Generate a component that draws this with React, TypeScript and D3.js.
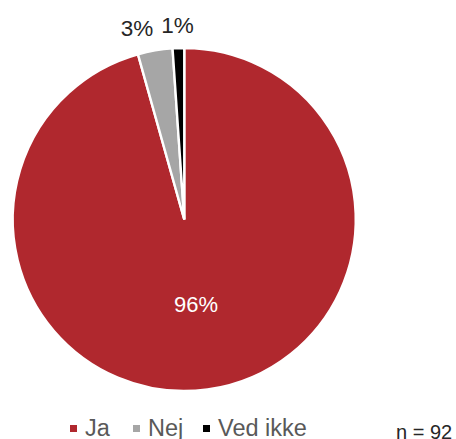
import React from "react";
import * as d3 from "d3";

const categories = ["Ja", "Nej", "Ved ikke"];
const counts = [88, 3, 1];
const colors = ["#B0282E", "#A6A6A6", "#000000"];
const note = "n = 92";

const W = 456;
const H = 439;
const FONT = "'Liberation Sans', Arial, sans-serif";

export default function App() {
  const cx = 184.25;
  const cy = 219.5;
  const r = 171.5;

  const total = d3.sum(counts);
  const pct = (v: number) => `${Math.round((v / total) * 100)}%`;

  const pie = d3.pie<number>().sort(null).value((d) => d)(counts);
  const arc = d3.arc<d3.PieArcDatum<number>>().innerRadius(0).outerRadius(r);
  const inArc = d3.arc<d3.PieArcDatum<number>>().innerRadius(0).outerRadius(r);
  const outArc = d3.arc<d3.PieArcDatum<number>>().innerRadius(r + 23).outerRadius(r + 23);

  const small = (v: number) => v / total < 0.1;

  const outside = pie
    .map((p, i) => ({ i, p, pos: outArc.centroid(p) }))
    .filter((o) => small(counts[o.i]));
  const minGap = 40.5;
  for (let k = outside.length - 2; k >= 0; k--) {
    const next = outside[k + 1];
    const cur = outside[k];
    if (cur.pos[0] > next.pos[0] - minGap) cur.pos = [next.pos[0] - minGap, cur.pos[1]];
  }

  const legendX = d3.scaleOrdinal<string, number>().domain(categories).range([70, 133, 203]);
  const legendTextOffset = 15;

  return (
    <svg
      width={W}
      height={H}
      style={{ position: "absolute", left: 0, top: 0, background: "#fff" }}
      fontFamily={FONT}
    >
      <g transform={`translate(${cx},${cy})`}>
        {pie.map((p, i) => (
          <path key={i} d={arc(p) || ""} fill={colors[i]} stroke="#fff" strokeWidth={2.4} strokeLinejoin="miter" />
        ))}
        {pie.map((p, i) => {
          if (small(counts[i])) return null;
          const [x, y] = inArc.centroid(p);
          return (
            <text key={i} x={x} y={y} dy="0.35em" textAnchor="middle" fill="#fff" fontSize={22}>
              {pct(counts[i])}
            </text>
          );
        })}
        {outside.map((o) => (
          <text key={o.i} x={o.pos[0]} y={o.pos[1]} dy="0.35em" textAnchor="middle" fill="#262626" fontSize={22.5}>
            {pct(counts[o.i])}
          </text>
        ))}
      </g>
      <g>
        {categories.map((c, i) => (
          <g key={c}>
            <rect x={legendX(c)} y={425} width={7} height={7} fill={colors[i]} />
            <text x={legendX(c)! + legendTextOffset} y={436} fill="#595959" fontSize={23.5}>
              {c}
            </text>
          </g>
        ))}
        <text x={396} y={438.5} fill="#262626" fontSize={20}>
          {note}
        </text>
      </g>
    </svg>
  );
}
